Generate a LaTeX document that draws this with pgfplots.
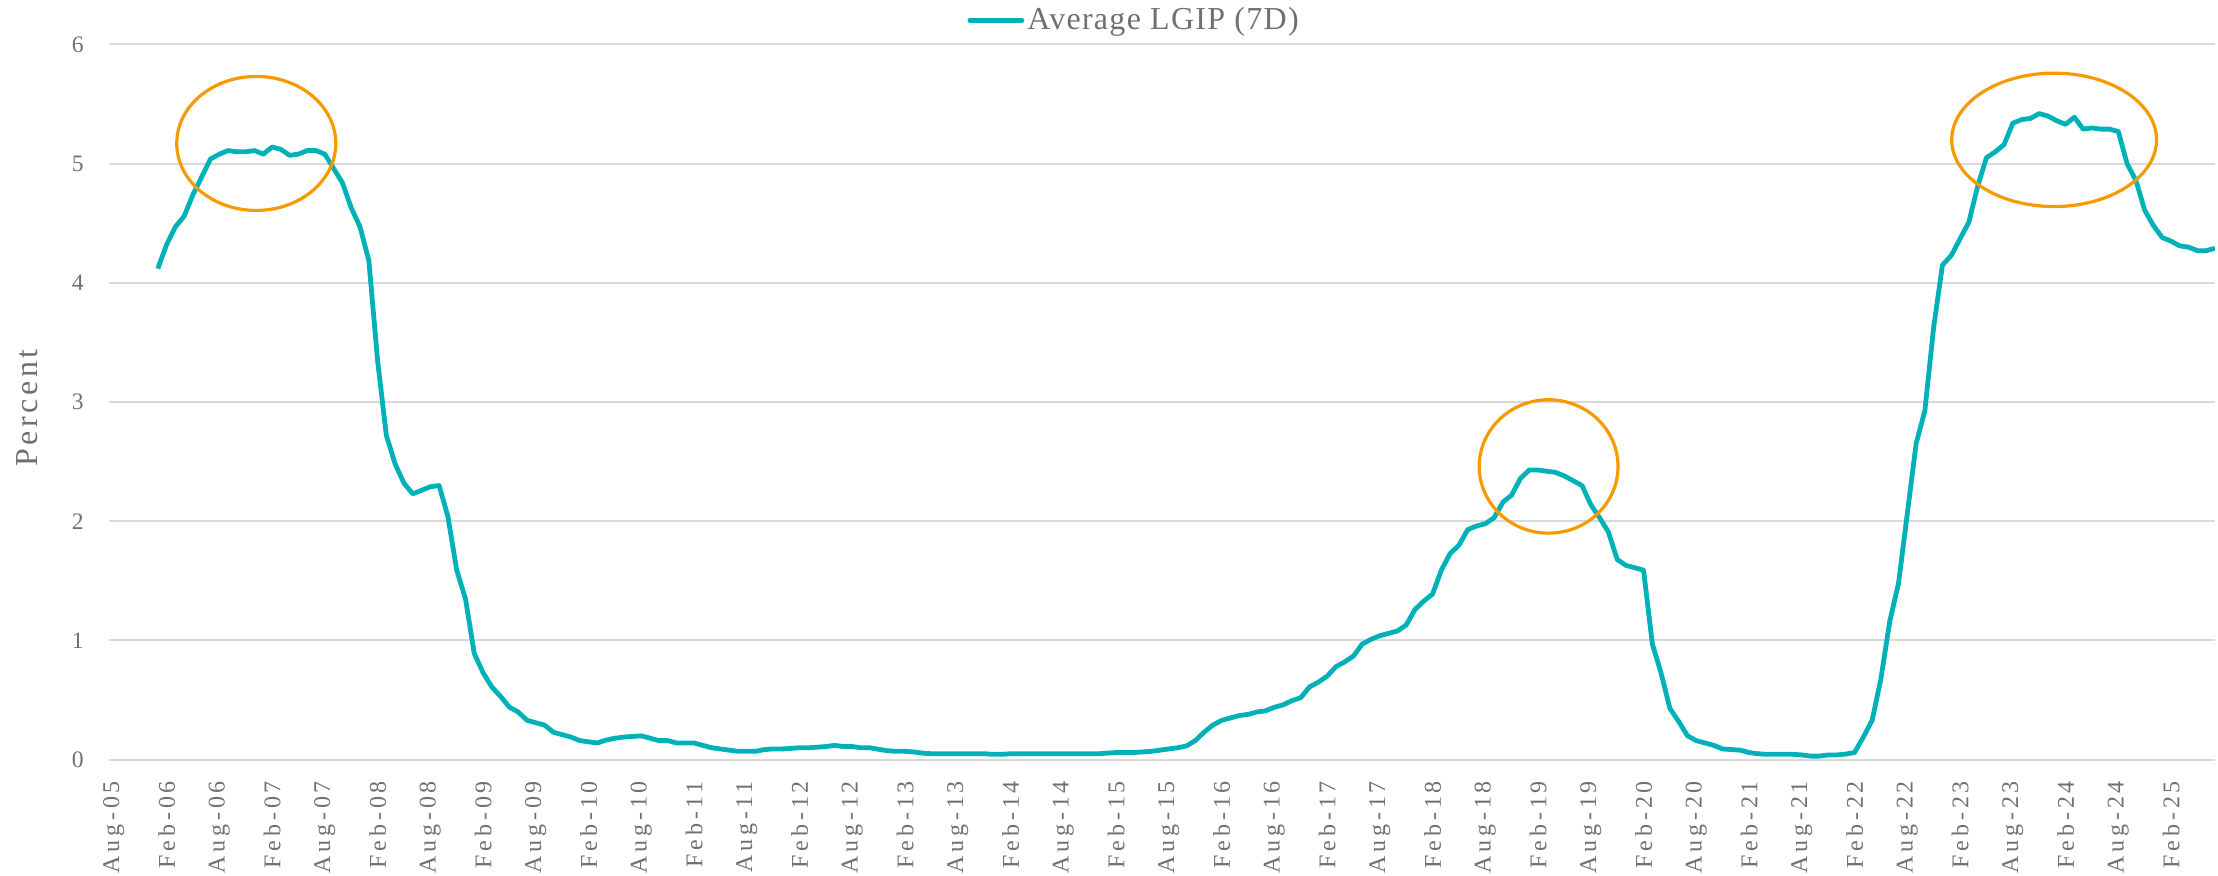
\documentclass[border=0pt]{standalone}
\usepackage{fontspec}
\setmainfont{Liberation Serif}
\newfontfamily\tickfont[LetterSpace=16]{Liberation Serif}
\newfontfamily\labfont[LetterSpace=11]{Liberation Serif}
\newfontfamily\legfont[LetterSpace=4]{Liberation Serif}
\usepackage{pgfplots}
\pgfplotsset{compat=1.18}

\definecolor{lgip}{HTML}{00B2B8}
\definecolor{ring}{HTML}{F59A00}
\definecolor{txtgray}{HTML}{707070}
\definecolor{gridgray}{HTML}{D9D9D9}

% months counted from Aug-05 = 0
\pgfplotstableread{
m v
5 4.12
6 4.32
7 4.47
8 4.56
9 4.74
10 4.89
11 5.04
12 5.08
13 5.11
14 5.10
15 5.10
16 5.11
17 5.08
18 5.14
19 5.12
20 5.07
21 5.08
22 5.11
23 5.11
24 5.08
25 4.96
26 4.84
27 4.63
28 4.47
29 4.19
30 3.35
31 2.72
32 2.48
33 2.32
34 2.23
35 2.26
36 2.29
37 2.30
38 2.04
39 1.59
40 1.35
41 0.89
42 0.73
43 0.61
44 0.53
45 0.44
46 0.40
47 0.33
48 0.31
49 0.29
50 0.23
51 0.21
52 0.19
53 0.16
54 0.15
55 0.14
56 0.165
57 0.18
58 0.19
59 0.195
60 0.20
61 0.18
62 0.16
63 0.16
64 0.14
65 0.14
66 0.14
67 0.12
68 0.10
69 0.09
70 0.08
71 0.07
72 0.07
73 0.07
74 0.085
75 0.09
76 0.09
77 0.095
78 0.10
79 0.10
80 0.105
81 0.11
82 0.12
83 0.11
84 0.11
85 0.10
86 0.10
87 0.087
88 0.075
89 0.07
90 0.07
91 0.065
92 0.055
93 0.05
94 0.05
95 0.05
96 0.05
97 0.05
98 0.05
99 0.05
100 0.045
101 0.045
102 0.05
103 0.05
104 0.05
105 0.05
106 0.05
107 0.05
108 0.05
109 0.05
110 0.05
111 0.05
112 0.05
113 0.055
114 0.06
115 0.06
116 0.06
117 0.065
118 0.07
119 0.08
120 0.09
121 0.10
122 0.115
123 0.16
124 0.23
125 0.29
126 0.33
127 0.35
128 0.37
129 0.38
130 0.40
131 0.41
132 0.44
133 0.46
134 0.495
135 0.52
136 0.61
137 0.65
138 0.70
139 0.78
140 0.82
141 0.87
142 0.97
143 1.01
144 1.04
145 1.06
146 1.08
147 1.13
148 1.26
149 1.33
150 1.39
151 1.59
152 1.73
153 1.80
154 1.93
155 1.96
156 1.98
157 2.03
158 2.16
159 2.22
160 2.36
161 2.43
162 2.43
163 2.42
164 2.41
165 2.38
166 2.34
167 2.30
168 2.14
169 2.03
170 1.91
171 1.68
172 1.63
173 1.61
174 1.59
175 0.97
176 0.725
177 0.43
178 0.32
179 0.20
180 0.16
181 0.14
182 0.12
183 0.09
184 0.085
185 0.08
186 0.06
187 0.05
188 0.045
189 0.045
190 0.045
191 0.045
192 0.04
193 0.03
194 0.03
195 0.04
196 0.04
197 0.047
198 0.06
199 0.19
200 0.33
201 0.68
202 1.16
203 1.48
205 2.65
206 2.93
207 3.63
208 4.15
209 4.23
210 4.37
211 4.51
212 4.81
213 5.05
214 5.10
215 5.16
216 5.34
217 5.37
218 5.38
219 5.42
220 5.40
221 5.36
222 5.33
223 5.39
224 5.29
225 5.30
226 5.29
227 5.29
228 5.27
229 5.00
230 4.86
231 4.61
232 4.48
233 4.38
234 4.35
235 4.31
236 4.30
237 4.27
238 4.27
239 4.29
}\lgipdata

\begin{document}
\begin{tikzpicture}
\path[use as bounding box] (-54.5pt,-58.15pt) rectangle (1054.5pt,379.85pt);
\begin{axis}[
    at={(0pt,0pt)}, anchor=south west,
    scale only axis,
    width=1053pt, height=357.6pt,
    xmin=-0.55, xmax=239,
    ymin=0, ymax=6,
    axis line style={draw=none},
    major tick length=0pt,
    ymajorgrids,
    grid style={gridgray, line width=1pt},
    ytick={0,1,...,6},
    xtick={0,6,...,234},
    xticklabels={Aug-05,Feb-06,Aug-06,Feb-07,Aug-07,Feb-08,Aug-08,Feb-09,Aug-09,Feb-10,
        Aug-10,Feb-11,Aug-11,Feb-12,Aug-12,Feb-13,Aug-13,Feb-14,Aug-14,Feb-15,
        Aug-15,Feb-16,Aug-16,Feb-17,Aug-17,Feb-18,Aug-18,Feb-19,Aug-19,Feb-20,
        Aug-20,Feb-21,Aug-21,Feb-22,Aug-22,Feb-23,Aug-23,Feb-24,Aug-24,Feb-25},
    xticklabel style={rotate=90, anchor=east, inner sep=0pt, text=txtgray,
        font=\tickfont\fontsize{12}{14}\selectfont},
    xticklabel shift=10.5pt,
    yticklabel style={anchor=east, inner sep=0pt, text=txtgray,
        font=\fontsize{11.8}{13}\selectfont},
    yticklabel shift=12.5pt,
    /pgf/number format/assume math mode=true,
    ylabel={Percent},
    ylabel style={at={(axis description cs:-0.0389,0.492)}, anchor=center,
        text=txtgray, font=\labfont\fontsize{16}{18}\selectfont},
    legend style={at={(axis description cs:0.487,1.034)}, anchor=center,
        draw=none, fill=none, inner sep=0pt,
        nodes={inner sep=1.5pt, text=txtgray},
        font=\legfont\fontsize{16}{18}\selectfont},
    legend image code/.code={\draw[#1, line cap=round] (0pt,0pt) -- (26pt,0pt);},
]
\addplot[lgip, line width=2.4pt, line join=round, no marks] table[x=m, y=v] {\lgipdata};
\addlegendentry{Average LGIP (7D)}

% circled peaks
\draw[ring, line width=1.6pt] (axis cs:16.2,5.17) ellipse [x radius=39.75pt, y radius=33.5pt];
\draw[ring, line width=1.6pt] (axis cs:163.2,2.46) ellipse [x radius=34.7pt, y radius=33.35pt];
\draw[ring, line width=1.6pt] (axis cs:220.7,5.20) ellipse [x radius=51.2pt, y radius=33.35pt];
\end{axis}
\end{tikzpicture}
\end{document}
